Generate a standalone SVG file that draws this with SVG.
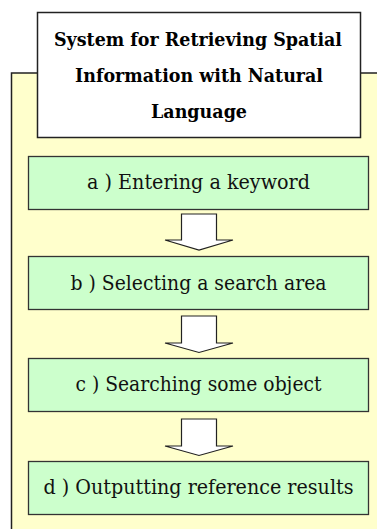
<svg xmlns="http://www.w3.org/2000/svg" width="377" height="529" viewBox="0 0 377 529">
  <style>
    .panel { fill: #ffffcc; stroke: #222; stroke-width: 1.5; }
    .title { fill: #ffffff; stroke: #222; stroke-width: 1.5; }
    .step { fill: #ccffcc; stroke: #333; stroke-width: 1.3; }
    .arrow { fill: #ffffff; stroke: #222; stroke-width: 1.2; stroke-linejoin: miter; }
    .tt { font-family: "DejaVu Serif", "Liberation Serif", serif; font-weight: bold; font-size: 18.5px; fill: #000; text-anchor: middle; }
    .st { font-family: "DejaVu Serif", "Liberation Serif", serif; font-size: 20px; fill: #111; text-anchor: middle; }
  </style>

  <!-- background panel, open to the right and bottom -->
  <path class="panel" d="M11.5,530 V73 H380 V530 Z"/>

  <!-- title -->
  <g id="title">
    <rect class="title" x="37.5" y="12.5" width="323" height="125"/>
    <text class="tt" x="198" y="45.5" textLength="288" lengthAdjust="spacingAndGlyphs">System for Retrieving Spatial</text>
    <text class="tt" x="199" y="81.5" textLength="248" lengthAdjust="spacingAndGlyphs">Information with Natural</text>
    <text class="tt" x="199" y="117.5" textLength="96" lengthAdjust="spacingAndGlyphs">Language</text>
  </g>

  <!-- steps -->
  <g id="step-a">
    <rect class="step" x="28.5" y="156.5" width="340" height="53"/>
    <text class="st" x="198.5" y="189" textLength="223" lengthAdjust="spacingAndGlyphs">a ) Entering a keyword</text>
  </g>
  <g id="step-b">
    <rect class="step" x="28.5" y="256.5" width="340" height="53"/>
    <text class="st" x="198.5" y="289.5" textLength="256" lengthAdjust="spacingAndGlyphs">b ) Selecting a search area</text>
  </g>
  <g id="step-c">
    <rect class="step" x="28.5" y="358.5" width="340" height="53"/>
    <text class="st" x="198.5" y="391" textLength="246" lengthAdjust="spacingAndGlyphs">c ) Searching some object</text>
  </g>
  <g id="step-d">
    <rect class="step" x="28.5" y="461.5" width="340" height="53"/>
    <text class="st" x="198.5" y="493.5" textLength="310" lengthAdjust="spacingAndGlyphs">d ) Outputting reference results</text>
  </g>

  <!-- block arrows between steps -->
  <g id="connectors">
    <path class="arrow" d="M181.5,214 H216.5 V240 H233 L199,250 L165,240 H181.5 Z"/>
    <path class="arrow" d="M181.5,316 H216.5 V343 H233 L199,352.5 L165,343 H181.5 Z"/>
    <path class="arrow" d="M181.5,419 H216.5 V446 H233 L199,455.5 L165,446 H181.5 Z"/>
  </g>
</svg>
